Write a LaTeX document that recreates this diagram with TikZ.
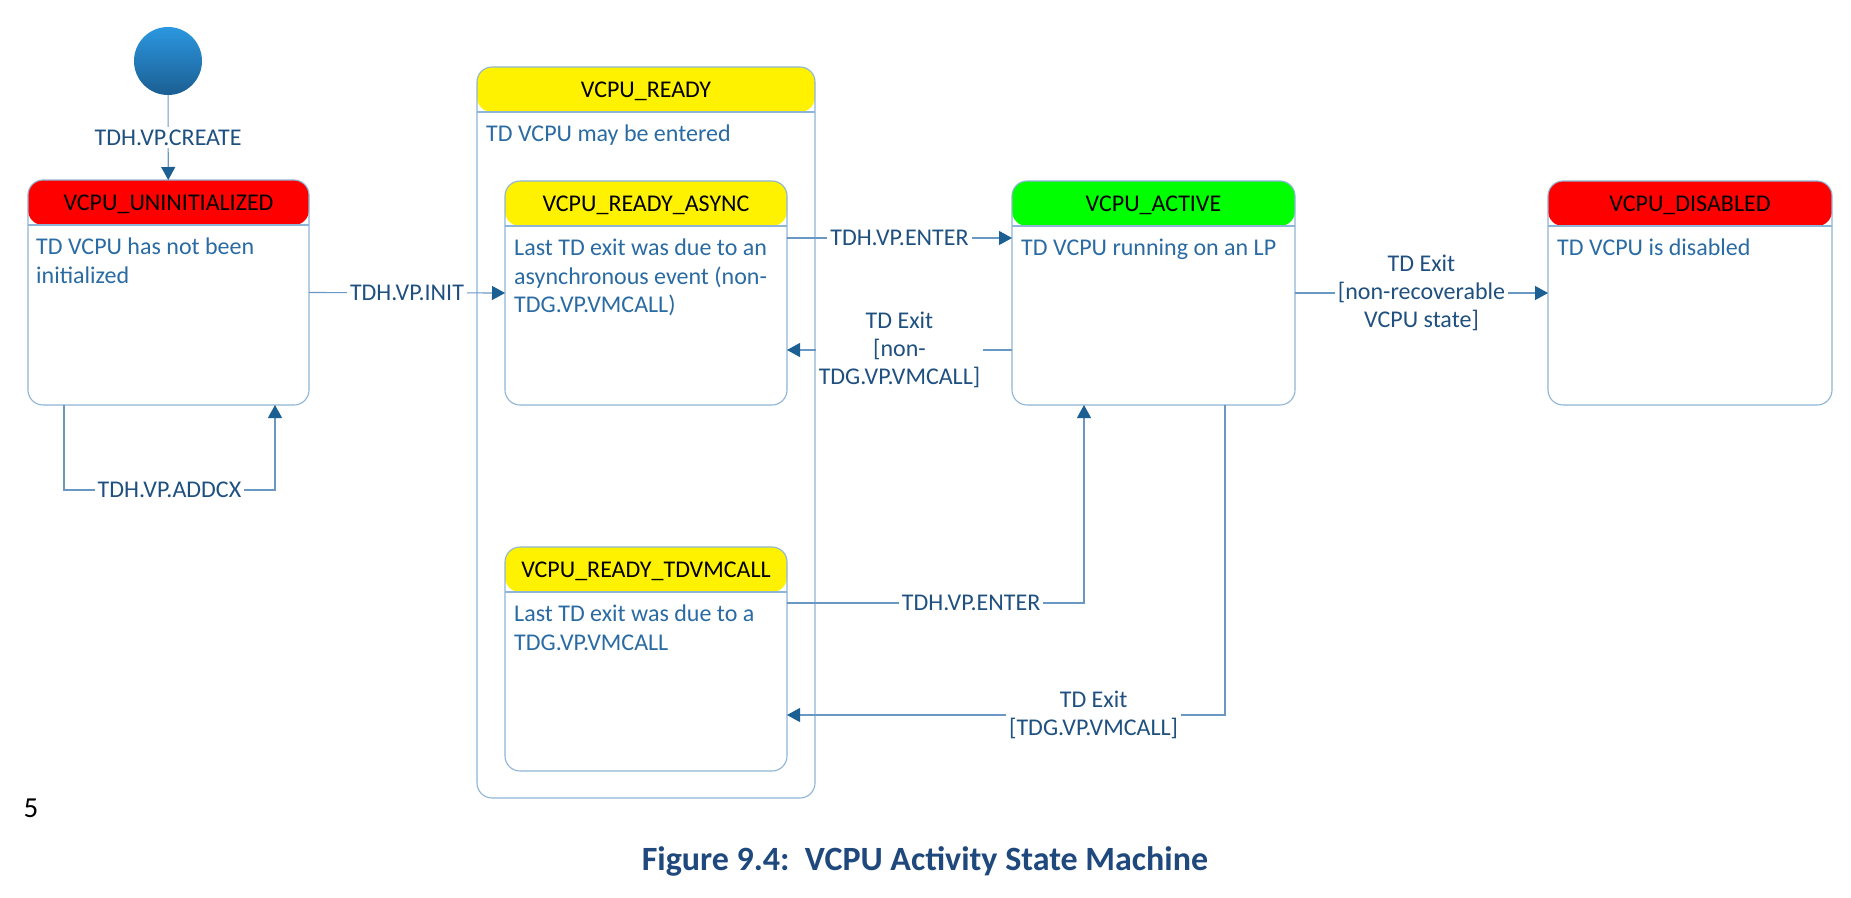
\documentclass[tikz,border=0pt]{standalone}
\usepackage{fontspec}
\setmainfont{Carlito}
\usetikzlibrary{arrows.meta}

\definecolor{boxline}{HTML}{8EB4D6}
\definecolor{flowline}{HTML}{6A98C4}
\definecolor{tipblue}{HTML}{1C5F93}
\definecolor{lbltext}{HTML}{1F5080}
\definecolor{bodytext}{HTML}{2A6BA3}
\definecolor{capblue}{HTML}{1F497D}
\definecolor{dotlight}{HTML}{2B97E0}
\definecolor{dotdark}{HTML}{1B5E92}

\begin{document}
\begin{tikzpicture}[x=1pt, y=-1pt,
  statebox/.style={draw=boxline, line width=1.1pt, rounded corners=15pt, fill=white,
    outer sep=0pt, inner sep=0pt,
    path picture={
      \fill[#1] (path picture bounding box.north west)
        rectangle ([yshift=-45pt]path picture bounding box.north east);
      \draw[boxline, line width=1.1pt] ([yshift=-45pt]path picture bounding box.north west)
        -- ([yshift=-45pt]path picture bounding box.north east);}},
  title/.style={inner sep=0pt, text height=15.5pt, text depth=0pt,
    font=\fontsize{24}{28.5}\selectfont},
  bodytxt/.style={anchor=north west, inner sep=0pt, align=left, text=bodytext,
    font=\fontsize{24}{28.5}\selectfont},
  flow/.style={draw=flowline, line width=1.1pt,
    -{Triangle[length=13pt, width=14pt, color=tipblue]}},
  lbl/.style={fill=white, inner sep=3pt, align=center, text=lbltext,
    font=\fontsize{24}{28}\selectfont},
  initdot/.style={circle, minimum size=68pt, inner sep=0pt,
    top color=dotlight, bottom color=dotdark}]

% Page area
\useasboundingbox[fill=white] (0,0) rectangle (1851,897);

% Initial state
\node[initdot] (init) at (168,61) {};

% States
\node[statebox=yellow, minimum width=338pt, minimum height=731pt] (ready) at (646,432.5) {};
\node[statebox=yellow, minimum width=282pt, minimum height=224pt] (async) at (646,293) {};
\node[statebox=yellow, minimum width=282pt, minimum height=224pt] (tdvm) at (646,659) {};
\node[statebox=red, minimum width=281pt, minimum height=225pt] (uninit) at (168.5,292.5) {};
\node[statebox=green, minimum width=283pt, minimum height=224pt] (active) at (1153.5,293) {};
\node[statebox=red, minimum width=284pt, minimum height=224pt] (disabled) at (1690,293) {};

% State names
\foreach \n/\t in {ready/VCPU\_READY, async/VCPU\_READY\_ASYNC, tdvm/VCPU\_READY\_TDVMCALL,
    uninit/VCPU\_UNINITIALIZED, active/VCPU\_ACTIVE, disabled/VCPU\_DISABLED}
  \node[title] (\n-title) at ([yshift=-22.5pt]\n.north) {\t};

% State descriptions
\node[bodytxt] (ready-text) at ([xshift=9pt, yshift=-58pt]ready.north west) {TD VCPU may be entered};
\node[bodytxt] (async-text) at ([xshift=9pt, yshift=-58pt]async.north west)
  {Last TD exit was due to an\\asynchronous event (non-\\TDG.VP.VMCALL)};
\node[bodytxt] (tdvm-text) at ([xshift=9pt, yshift=-58pt]tdvm.north west)
  {Last TD exit was due to a\\TDG.VP.VMCALL};
\node[bodytxt] (uninit-text) at ([xshift=8pt, yshift=-58pt]uninit.north west)
  {TD VCPU has not been\\initialized};
\node[bodytxt] (active-text) at ([xshift=9pt, yshift=-58pt]active.north west) {TD VCPU running on an LP};
\node[bodytxt] (disabled-text) at ([xshift=9pt, yshift=-58pt]disabled.north west) {TD VCPU is disabled};

% Transitions
\draw[flow] (init) -- node[lbl] (create-lbl) {TDH.VP.CREATE} (uninit);
\draw[flow] (uninit.east) -- node[lbl] (init-lbl) {TDH.VP.INIT} (async.west);
\draw[flow] ([xshift=-104.5pt]uninit.south) -- ++(0,85)
  -| node[lbl, pos=0.25] (addcx-lbl) {TDH.VP.ADDCX} ([xshift=106.5pt]uninit.south);
\draw[flow] ([yshift=55pt]async.east) -- node[lbl] (enter-lbl) {TDH.VP.ENTER} ([yshift=55pt]active.west);
\draw[flow] ([yshift=-57pt]active.west)
  -- node[lbl] (exit-lbl) {TD Exit\\{[non-}\\TDG.VP.VMCALL]} ([yshift=-57pt]async.east);
\draw[flow] (active) -- node[lbl] (fail-lbl) {TD Exit\\{[non-recoverable}\\VCPU state]} (disabled);
\draw[flow] ([yshift=56pt]tdvm.east)
  -| node[lbl, pos=0.31] (reenter-lbl) {TDH.VP.ENTER} ([xshift=-69.5pt]active.south);
\draw[flow] ([xshift=71.5pt]active.south)
  |- node[lbl, pos=0.65] (vmcall-lbl) {TD Exit\\{[TDG.VP.VMCALL]}} ([yshift=-56pt]tdvm.east);

% Line number and caption
\node[inner sep=0pt, font=\fontsize{29}{34}\selectfont] (lineno) at (31,808) {5};
\node[text=capblue, font=\bfseries\fontsize{34}{40}\selectfont] (caption) at (925,861)
  {Figure 9.4:\ \ VCPU Activity State Machine};

\end{tikzpicture}
\end{document}
